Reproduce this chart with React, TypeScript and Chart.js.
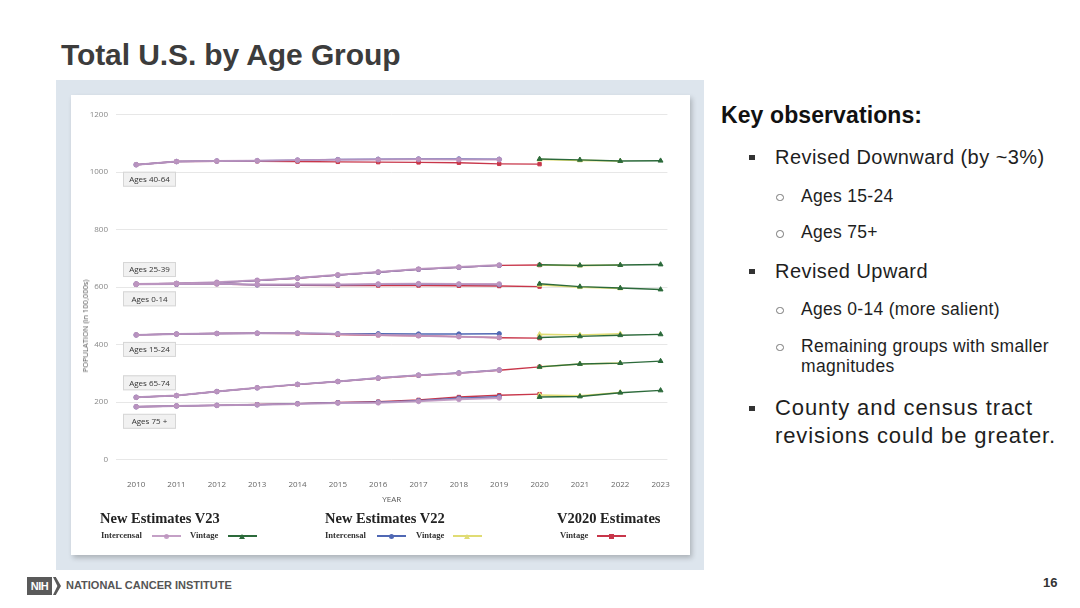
import React, { useEffect, useRef } from "react";
import { Chart, registerables } from "chart.js";

Chart.register(...registerables);

// ---------- DATA (population in 100,000s) ----------
const AGE_GROUPS = ["Ages 40-64", "Ages 25-39", "Ages 0-14", "Ages 15-24", "Ages 65-74", "Ages 75 +"];
// label box sits below (1) or above (-1) the group's first point
const LABEL_SIDE = [1, -1, 1, 1, -1, 1];

const INTERCENSAL_YEARS = [2010, 2011, 2012, 2013, 2014, 2015, 2016, 2017, 2018, 2019];
const V2020_YEARS = [2010, 2011, 2012, 2013, 2014, 2015, 2016, 2017, 2018, 2019, 2020];
const V23_VINTAGE_YEARS = [2020, 2021, 2022, 2023];
const V22_VINTAGE_YEARS = [2020, 2021, 2022];

// rows follow AGE_GROUPS
const V23_INTERCENSAL = [
  [1026, 1037, 1039, 1040, 1042, 1043, 1044, 1045, 1044, 1044],
  [611, 613, 617, 624, 632, 643, 653, 663, 670, 677],
  [610, 611, 612, 609, 609, 609, 611, 612, 611, 611],
  [434, 437, 439, 440, 440, 437, 434, 431, 428, 425],
  [217, 223, 237, 250, 262, 272, 284, 294, 301, 312],
  [184, 187, 189, 191, 194, 197, 198, 203, 210, 215],
];
const V23_VINTAGE = [
  [1046, 1043, 1039, 1040],
  [678, 676, 677, 679],
  [612, 602, 597, 592],
  [425, 429, 433, 436],
  [323, 333, 336, 343],
  [218, 220, 233, 241],
];
const V22_INTERCENSAL = [
  [1026, 1037, 1039, 1040, 1042, 1044, 1045, 1046, 1046, 1045],
  [611, 613, 616, 623, 632, 642, 652, 662, 669, 676],
  [610, 610, 612, 608, 608, 608, 610, 611, 610, 609],
  [434, 437, 439, 440, 440, 438, 438, 437, 437, 438],
  [217, 223, 237, 250, 262, 272, 284, 294, 302, 312],
  [184, 187, 189, 191, 195, 198, 200, 205, 214, 219],
];
const V22_VINTAGE = [
  [1044, 1041, 1039],
  [677, 675, 677],
  [608, 600, 596],
  [436, 434, 438],
  [323, 333, 336],
  [225, 222, 234],
];
const V2020_VINTAGE = [
  [1026, 1037, 1038, 1038, 1037, 1036, 1035, 1034, 1033, 1029, 1028],
  [611, 613, 616, 623, 631, 642, 652, 662, 669, 676, 677],
  [610, 610, 611, 608, 607, 606, 606, 606, 605, 604, 602],
  [434, 437, 439, 440, 439, 435, 433, 431, 428, 424, 423],
  [217, 223, 237, 250, 261, 272, 283, 293, 301, 311, 323],
  [184, 187, 189, 192, 195, 199, 202, 208, 218, 224, 228],
];

const Y_MIN = 0;
const Y_MAX = 1200;
const Y_STEP = 200;

// ---------- STYLES ----------
const COLORS = {
  v23i: "rgba(190,150,192,0.9)",
  v23v: "#2c6a3b",
  v22i: "#5068b4",
  v22v: "#e0dc74",
  v20: "#c8364a",
};

const SERIES = [
  { label: "V23 Vintage", years: V23_VINTAGE_YEARS, values: V23_VINTAGE, color: COLORS.v23v, point: "triangle", width: 1.4, radius: 2.8 },
  { label: "V23 Intercensal", years: INTERCENSAL_YEARS, values: V23_INTERCENSAL, color: COLORS.v23i, point: "circle", width: 2, radius: 2.4 },
  { label: "V22 Vintage", years: V22_VINTAGE_YEARS, values: V22_VINTAGE, color: COLORS.v22v, point: "triangle", width: 1.6, radius: 2.8 },
  { label: "V22 Intercensal", years: INTERCENSAL_YEARS, values: V22_INTERCENSAL, color: COLORS.v22i, point: "circle", width: 1.4, radius: 2.2 },
  { label: "V2020 Vintage", years: V2020_YEARS, values: V2020_VINTAGE, color: COLORS.v20, point: "rect", width: 1.4, radius: 2.4 },
];

const groupLabelPlugin = {
  id: "groupLabels",
  afterDatasetsDraw(chart: any) {
    const { ctx, chartArea, scales } = chart;
    const y = scales.y;
    ctx.save();
    ctx.font = "8px 'Open Sans'";
    ctx.textAlign = "center";
    ctx.textBaseline = "middle";
    AGE_GROUPS.forEach((name, i) => {
      const first = V23_INTERCENSAL[i][0];
      const cy = y.getPixelForValue(first) + LABEL_SIDE[i] * 14.5;
      const w = 53;
      const h = 15;
      const x0 = chartArea.left + 7;
      ctx.fillStyle = "#f1f1f1";
      ctx.strokeStyle = "#d6d6d6";
      ctx.lineWidth = 1;
      ctx.fillRect(x0, cy - h / 2, w, h);
      ctx.strokeRect(x0 + 0.5, cy - h / 2 + 0.5, w - 1, h - 1);
      ctx.fillStyle = "#333";
      ctx.fillText(name, x0 + w / 2, cy + 0.5);
    });
    ctx.restore();
  },
};

function ChartCanvas() {
  const ref = useRef<HTMLCanvasElement | null>(null);
  useEffect(() => {
    if (!ref.current) return;
    const datasets: any[] = [];
    SERIES.forEach((s) => {
      AGE_GROUPS.forEach((g, gi) => {
        datasets.push({
          label: `${g} ${s.label}`,
          data: s.years.map((yr, k) => ({ x: yr, y: s.values[gi][k] })),
          borderColor: s.color,
          backgroundColor: s.color,
          borderWidth: s.width,
          pointStyle: s.point,
          pointRadius: s.radius,
          pointBorderWidth: 1,
          tension: 0,
          fill: false,
        });
      });
    });
    const tickFont = { family: "'Open Sans', sans-serif", size: 8 };
    const chart = new Chart(ref.current, {
      type: "line",
      data: { datasets },
      options: {
        animation: false,
        responsive: false,
        maintainAspectRatio: false,
        layout: { padding: { left: 0, right: 22, top: 19.7, bottom: 0 } },
        plugins: { legend: { display: false }, tooltip: { enabled: false } },
        scales: {
          x: {
            type: "linear",
            min: 2009.5,
            max: 2023.17,
            afterFit: (s: any) => {
              s.height = 50.3;
            },
            grid: { display: false, drawTicks: false },
            border: { display: false },
            ticks: {
              stepSize: 1,
              maxTicksLimit: 20,
              includeBounds: false,
              autoSkip: false,
              maxRotation: 0,
              padding: 20,
              color: "#666",
              font: tickFont,
              callback: (v: any) => String(v),
            },
            title: {
              display: true,
              text: "YEAR",
              color: "#555",
              font: tickFont,
              padding: { top: 0, bottom: 5 },
            },
          },
          y: {
            min: Y_MIN,
            max: Y_MAX,
            afterFit: (s: any) => {
              s.width = 45;
            },
            grid: { color: "#e7e7e7", drawTicks: false, lineWidth: 1 },
            border: { display: false },
            ticks: {
              stepSize: Y_STEP,
              padding: 8,
              color: "#888",
              font: tickFont,
              callback: (v: any) => String(v),
            },
          },
        },
      } as any,
      plugins: [groupLabelPlugin],
    });
    return () => chart.destroy();
  }, []);
  return (
    <canvas
      ref={ref}
      width={619}
      height={415}
      style={{ position: "absolute", left: 71, top: 95, width: 619, height: 415 }}
    />
  );
}

function Marker({ kind, color }: { kind: string; color: string }) {
  if (kind === "triangle") {
    return (
      <div
        style={{
          position: "absolute",
          left: 11,
          top: -2,
          width: 0,
          height: 0,
          borderLeft: "3px solid transparent",
          borderRight: "3px solid transparent",
          borderBottom: `5px solid ${color}`,
        }}
      />
    );
  }
  return (
    <div
      style={{
        position: "absolute",
        left: 11.5,
        top: -2,
        width: 5,
        height: 5,
        borderRadius: kind === "circle" ? "50%" : 0,
        background: color,
      }}
    />
  );
}

function LegendSwatch({ x, y, color, kind }: { x: number; y: number; color: string; kind: string }) {
  return (
    <div style={{ position: "absolute", left: x, top: y, width: 29, height: 1 }}>
      <div style={{ position: "absolute", left: 0, top: -0.75, width: 29, height: 1.5, background: color }} />
      <Marker kind={kind} color={color} />
    </div>
  );
}

const serifBold: React.CSSProperties = {
  position: "absolute",
  fontFamily: "'Liberation Serif', serif",
  fontWeight: 700,
  color: "#222",
  whiteSpace: "nowrap",
};

function Legend() {
  const head = (text: string, x: number) => (
    <div style={{ ...serifBold, left: x, top: 509, fontSize: 14.5, lineHeight: "18px" }}>{text}</div>
  );
  const item = (text: string, x: number) => (
    <div style={{ ...serifBold, left: x, top: 530, fontSize: 8.6, lineHeight: "11px", color: "#333" }}>{text}</div>
  );
  return (
    <>
      {head("New Estimates V23", 100)}
      {head("New Estimates V22", 325)}
      {head("V2020 Estimates", 557)}
      {item("Intercensal", 101)}
      <LegendSwatch x={152} y={536} color={COLORS.v23i} kind="circle" />
      {item("Vintage", 190)}
      <LegendSwatch x={228} y={536} color={COLORS.v23v} kind="triangle" />
      {item("Intercensal", 325)}
      <LegendSwatch x={377} y={536} color={COLORS.v22i} kind="circle" />
      {item("Vintage", 416)}
      <LegendSwatch x={453} y={536} color={COLORS.v22v} kind="triangle" />
      {item("Vintage", 560)}
      <LegendSwatch x={597} y={536} color={COLORS.v20} kind="rect" />
    </>
  );
}

type Line = { text: string; x: number; cy: number; size: number; bold?: boolean; bullet?: "square" | "circle"; bx?: number; ls?: number };

const OBS_LINES: Line[] = [
  { text: "Key observations:", x: 721, cy: 116, size: 23, bold: true, ls: 0.1 },
  { text: "Revised Downward (by ~3%)", x: 775, cy: 157, size: 20, bullet: "square", bx: 749, ls: 0.45 },
  { text: "Ages 15-24", x: 801, cy: 196, size: 17.5, bullet: "circle", bx: 776, ls: 0.3 },
  { text: "Ages 75+", x: 801, cy: 232.5, size: 17.5, bullet: "circle", bx: 776, ls: 0.3 },
  { text: "Revised Upward", x: 775, cy: 271, size: 20, bullet: "square", bx: 749, ls: 0.45 },
  { text: "Ages 0-14 (more salient)", x: 801, cy: 309, size: 17.5, bullet: "circle", bx: 776, ls: 0.3 },
  { text: "Remaining groups with smaller", x: 801, cy: 346, size: 17.5, bullet: "circle", bx: 776, ls: 0.3 },
  { text: "magnitudes", x: 801, cy: 366.5, size: 17.5, ls: 0.3 },
  { text: "County and census tract", x: 775, cy: 408, size: 22, bullet: "square", bx: 749, ls: 0.9 },
  { text: "revisions could be greater.", x: 775, cy: 436.5, size: 22, ls: 0.9 },
];

function Observations() {
  return (
    <>
      {OBS_LINES.map((l, i) => (
        <React.Fragment key={i}>
          <div
            style={{
              position: "absolute",
              left: l.x,
              top: l.cy - l.size * 0.6,
              fontSize: l.size,
              lineHeight: `${l.size * 1.2}px`,
              fontWeight: l.bold ? 700 : 400,
              letterSpacing: l.ls ?? 0,
              fontFamily: "'Liberation Sans', Arial, sans-serif",
              color: l.bold ? "#111" : "#1e1e1e",
              whiteSpace: "nowrap",
            }}
          >
            {l.text}
          </div>
          {l.bullet === "square" && (
            <div style={{ position: "absolute", left: l.bx, top: l.cy - 2.5, width: 5.5, height: 5.5, background: "#333" }} />
          )}
          {l.bullet === "circle" && (
            <div
              style={{
                position: "absolute",
                left: l.bx,
                top: l.cy - 2.5,
                width: 5.5,
                height: 5.5,
                borderRadius: "50%",
                border: "1px solid #777",
                background: "#fff",
              }}
            />
          )}
        </React.Fragment>
      ))}
    </>
  );
}

export default function App() {
  return (
    <div
      style={{
        position: "fixed",
        left: 0,
        top: 0,
        width: 1080,
        height: 608,
        background: "#fff",
        overflow: "hidden",
        fontFamily: "'Liberation Sans', Arial, sans-serif",
      }}
    >
      <div
        style={{
          position: "absolute",
          left: 61,
          top: 37,
          fontSize: 30,
          lineHeight: "36px",
          fontWeight: 700,
          letterSpacing: -0.1,
          color: "#3c3c3c",
          whiteSpace: "nowrap",
        }}
      >
        Total U.S. by Age Group
      </div>

      {/* chart panel */}
      <div style={{ position: "absolute", left: 56, top: 80, width: 648, height: 490, background: "#dde5ed" }} />
      <div
        style={{
          position: "absolute",
          left: 71,
          top: 95,
          width: 619,
          height: 460,
          background: "#fff",
          boxShadow: "2px 3px 5px rgba(0,0,0,0.22)",
        }}
      />
      <ChartCanvas />
      <div
        style={{
          position: "absolute",
          left: 84.5,
          top: 326,
          transform: "translate(-50%, -50%) rotate(-90deg)",
          fontFamily: "'Open Sans', sans-serif",
          fontSize: 7.5,
          color: "#555",
          whiteSpace: "nowrap",
        }}
      >
        POPULATION (in 100,000s)
      </div>
      <Legend />

      <Observations />

      {/* footer */}
      <div
        style={{
          position: "absolute",
          left: 27,
          top: 577,
          width: 25,
          height: 18,
          background: "#5a5a5a",
          color: "#fff",
          fontSize: 11,
          fontWeight: 700,
          lineHeight: "18px",
          textAlign: "center",
          letterSpacing: -0.5,
        }}
      >
        NIH
      </div>
      <div
        style={{
          position: "absolute",
          left: 53,
          top: 577,
          width: 8,
          height: 18,
          background: "#5a5a5a",
          clipPath: "polygon(0 0, 35% 0, 100% 50%, 35% 100%, 0 100%, 55% 50%)",
        }}
      />
      <div
        style={{
          position: "absolute",
          left: 66,
          top: 578,
          fontSize: 11,
          lineHeight: "14px",
          fontWeight: 700,
          color: "#555",
          whiteSpace: "nowrap",
        }}
      >
        NATIONAL CANCER INSTITUTE
      </div>
      <div
        style={{
          position: "absolute",
          left: 1043,
          top: 575,
          fontSize: 13,
          lineHeight: "16px",
          fontWeight: 700,
          color: "#333",
        }}
      >
        16
      </div>
    </div>
  );
}
